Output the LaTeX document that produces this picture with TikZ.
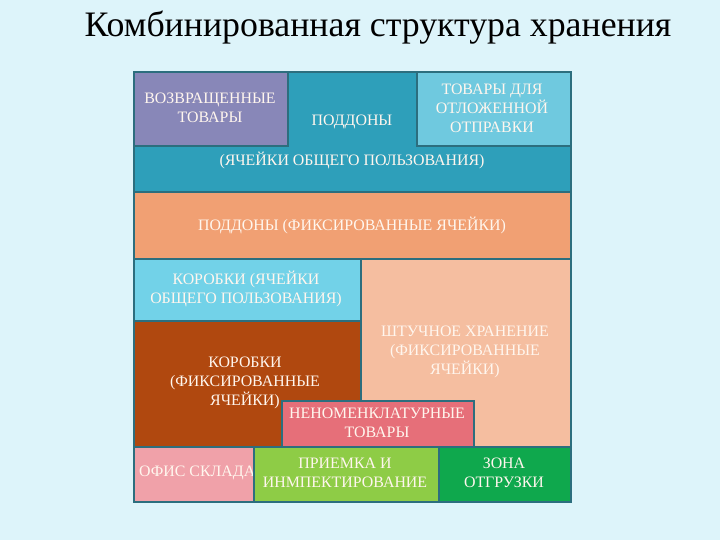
\documentclass[tikz,border=0pt]{standalone}
\usepackage{fontspec}
\setmainfont{Liberation Serif}
\definecolor{bgc}{HTML}{DDF4FA}
\definecolor{bord}{HTML}{2C6E7E}
\definecolor{cTeal}{HTML}{2E9FBA}
\definecolor{cLav}{HTML}{8887B8}
\definecolor{cLtb}{HTML}{6FC9DF}
\definecolor{cOr}{HTML}{F1A073}
\definecolor{cSky}{HTML}{72D2E8}
\definecolor{cPeach}{HTML}{F5BEA0}
\definecolor{cBrown}{HTML}{B0480F}
\definecolor{cRed}{HTML}{E66F79}
\definecolor{cPink}{HTML}{F0A1A9}
\definecolor{cLg}{HTML}{8ECC46}
\definecolor{cGr}{HTML}{0FA84D}
\definecolor{txt}{HTML}{FFF6EE}
\tikzset{
  blk/.style={draw=bord, line width=1.6pt, rectangle, inner sep=0pt, anchor=north west},
  lbl/.style={text=txt, font=\fontsize{15.9}{19}\selectfont, align=center, inner sep=0pt}
}
\begin{document}
\begin{tikzpicture}[x=1pt,y=-1pt]
\fill[bgc] (0,0) rectangle (720,540);
\useasboundingbox (0,0) rectangle (720,540);
\node[font=\fontsize{35.8}{40}\selectfont, text=black] (title) at (378,28) {Комбинированная структура хранения};
% top teal block
\node[blk, fill=cTeal, minimum width=437, minimum height=120] (teal) at (133,71) {};
\node[blk, fill=cLav, minimum width=154, minimum height=74] (lav) at (133,71) {};
\node[blk, fill=cLtb, minimum width=154, minimum height=74] (ltb) at (416,71) {};
\node[lbl] (tlav) at (210,108) {ВОЗВРАЩЕННЫЕ\\ТОВАРЫ};
\node[lbl] (tpod) at (352,122) {ПОДДОНЫ};
\node[lbl] (tltb) at (492,108) {ТОВАРЫ ДЛЯ\\ОТЛОЖЕННОЙ\\ОТПРАВКИ};
\node[lbl] (tyach) at (352,160) {(ЯЧЕЙКИ ОБЩЕГО ПОЛЬЗОВАНИЯ)};
% orange
\node[blk, fill=cOr, minimum width=437, minimum height=67] (orng) at (133,191) {};
\node[lbl] (tor) at (352,225) {ПОДДОНЫ (ФИКСИРОВАННЫЕ ЯЧЕЙКИ)};
% middle
\node[blk, fill=cSky, minimum width=227, minimum height=62] (sky) at (133,258) {};
\node[lbl] (tsky) at (246,289) {КОРОБКИ (ЯЧЕЙКИ\\ОБЩЕГО ПОЛЬЗОВАНИЯ)};
\node[blk, fill=cPeach, minimum width=210, minimum height=188] (peach) at (360,258) {};
\node[lbl] (tpeach) at (465,352) {ШТУЧНОЕ ХРАНЕНИЕ\\(ФИКСИРОВАННЫЕ\\ЯЧЕЙКИ)};
\node[blk, fill=cBrown, minimum width=227, minimum height=126] (brown) at (133,320) {};
\node[lbl] (tbrown) at (245,383) {КОРОБКИ\\(ФИКСИРОВАННЫЕ\\ЯЧЕЙКИ)};
\node[blk, fill=cRed, minimum width=192, minimum height=46] (red) at (281,400) {};
\node[lbl] (tred) at (377,423) {НЕНОМЕНКЛАТУРНЫЕ\\ТОВАРЫ};
% bottom row
\node[blk, fill=cPink, minimum width=120, minimum height=55] (pink) at (133,446) {};
\node[lbl, anchor=west] (tpink) at (139,473) {ОФИС СКЛАДА};
\node[blk, fill=cLg, minimum width=185, minimum height=55] (lg) at (253,446) {};
\node[lbl] (tlg) at (345,473) {ПРИЕМКА И\\ИНМПЕКТИРОВАНИЕ};
\node[blk, fill=cGr, minimum width=132, minimum height=55] (gr) at (438,446) {};
\node[lbl] (tgr) at (504,473) {ЗОНА\\ОТГРУЗКИ};
\end{tikzpicture}
\end{document}
